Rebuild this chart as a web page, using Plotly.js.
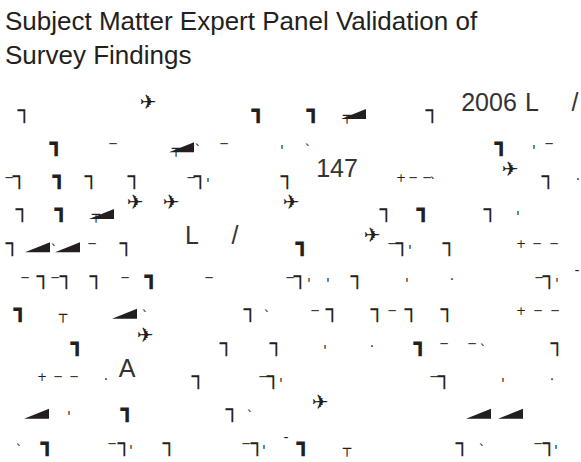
<!DOCTYPE html>
<html>
<head>
<meta charset="utf-8">
<script src="https://cdn.plot.ly/plotly-3.0.1.min.js"></script>
<style>
  html, body { margin: 0; padding: 0; background: #ffffff; }
  #chart { width: 581px; height: 462px; }
</style>
</head>
<body>
<div id="chart"></div>
<script>
// ---- Data (the body text is rendered with a broken font) ----
const titleText = 'Subject Matter Expert Panel Validation of<br>Survey Findings';

// Legible words in the body: text, row index, x position
const wordText = ['2006', 'L', '/', '147', 'L', '/', 'A'];
const wordRow  = [0, 0, 0, 2, 4, 4, 8];
const wordX    = [489, 532, 575, 337, 192, 235, 127];

// Broken-font glyph fragments: row index, x position, glyph
const glyphRow = [
  0,0,0,0,0,0,
  1,1,1,1,1,1,1,1,1,1,
  2,2,2,2,2,2,2,2,2,2,2,2,2,2,2,2,
  3,3,3,3,3,3,3,3,3,3,
  4,4,4,4,4,4,4,4,4,4,4,4,4,
  5,5,5,5,5,5,5,5,5,5,5,5,5,5,5,5,5,5,5,
  6,6,6,6,6,6,6,6,6,6,6,6,6,6,
  7,7,7,7,7,7,7,7,7,7,7,
  8,8,8,8,8,8,8,8,8,8,8,8,
  9,9,9,9,9,
  10,10,10,10,10,10,10,10,10,10,10,10,10,10,10,10,10
];
const glyphX = [
  24,148,258,313,347,432,
  56,113,176,198,224,282,308,501,534,549,
  9,19,59,91,134,191,200,208,287,401,413,427,433,510,548,578,
  22,61,96,135,171,291,386,423,490,518,
  12,54,92,126,302,372,392,402,410,449,521,537,554,
  25,43,55,66,96,125,151,209,290,300,309,328,357,407,452,539,549,557,577,
  20,63,145,250,267,315,332,377,392,411,447,521,538,555,
  77,145,226,276,325,372,420,444,472,483,557,
  42,58,74,106,198,263,273,281,434,444,503,552,
  69,127,232,250,320,
  19,47,112,124,131,169,246,257,264,286,303,347,462,482,538,549,556
];
const glyphChar = [
  '┐','✈','┓','┓','┬','┐',
  '┓','─','┬','`','─',"'",'`','┓',"'",'─',
  '─','┐','┓','┐','┐','─','┐',"'",'┐','+','─','─','`','✈','┐','.',
  '┐','┓','┬','✈','✈','✈','┐','┓','┐',"'",
  '┐','`','─','┐','┓','✈','─','┐',"'",'┐','+','─','─',
  '─','┐','─','┐','┐','─','┓','─','─','┐',"'","'",'┐',"'",'.','─','┐',"'",'-',
  '┓','┬','`','┐','`','─','┐','┐','─','┐','┐','+','─','─',
  '┓','✈','┐','┐',"'",'.','┓','─','─','`','┐',
  '+','─','─','.','┐','─','┐',"'",'─','┐',"'",'.',
  "'",'┓','┐','`','✈',
  '`','┓','─','┐',"'",'┐','─','┐',"'",'-','┓','┬','┐','`','─','┐',"'"
];

// Filled wedge fragments: row index, left x
const wedgeRow = [0, 1, 3, 4, 4, 6, 9, 9, 9];
const wedgeX   = [341, 169, 89, 25, 55, 112, 24, 466, 498];

// ---- Layout constants (styles) ----
const W = 581, H = 462;
const firstBaseline = 111, rowGap = 33.3;
const ink = '#231f20';
const wedgeW = 25, wedgeTop = -2, wedgeBottom = 8;

function baseline(r) { return firstBaseline + r * rowGap; }

const glyphStyle = {
  '┐': {size: 22, dy: 1,  family: 'DejaVu Sans Mono'},
  '┓': {size: 22, dy: 1,  family: 'DejaVu Sans Mono'},
  '─': {size: 12, dy: 1,  family: 'DejaVu Sans Mono'},
  '┬': {size: 14, dy: 5,  family: 'DejaVu Sans Mono'},
  '+': {size: 12, dy: 1,  family: 'DejaVu Sans'},
  '✈': {size: 20, dy: -7, family: 'DejaVu Sans'},
  "'": {size: 14, dy: 7,  family: 'DejaVu Sans'},
  '`': {size: 14, dy: 7,  family: 'DejaVu Sans'},
  '.': {size: 14, dy: -1, family: 'DejaVu Sans'},
  '-': {size: 14, dy: -6, family: 'DejaVu Sans'}
};

const gx = [], gy = [], gt = [], gs = [], gf = [];
for (let i = 0; i < glyphX.length; i++) {
  const st = glyphStyle[glyphChar[i]];
  gx.push(glyphX[i]);
  gy.push(baseline(glyphRow[i]) + st.dy);
  gt.push(glyphChar[i]);
  gs.push(st.size);
  gf.push(st.family);
}

const wx = [], wy = [];
for (let i = 0; i < wedgeX.length; i++) {
  const b = baseline(wedgeRow[i]);
  wx.push(wedgeX[i], wedgeX[i] + wedgeW, wedgeX[i] + wedgeW, null);
  wy.push(b + wedgeBottom, b + wedgeBottom, b + wedgeTop, null);
}

const wordSize = 25;
const traces = [
  {
    type: 'scatter', mode: 'lines', x: wx, y: wy,
    fill: 'toself', fillcolor: ink, line: {width: 0, color: ink},
    hoverinfo: 'skip', connectgaps: false
  },
  {
    type: 'scatter', mode: 'text', x: gx, y: gy, text: gt,
    textposition: 'middle center',
    textfont: {size: gs, family: gf, color: ink},
    hoverinfo: 'skip'
  },
  {
    type: 'scatter', mode: 'text',
    x: wordX,
    y: wordRow.map(r => baseline(r) - 6.5),
    text: wordText,
    textposition: 'middle center',
    textfont: {size: wordSize, family: 'Liberation Sans', color: '#333333'},
    hoverinfo: 'skip'
  }
];

const layout = {
  width: W, height: H,
  margin: {l: 0, r: 0, t: 0, b: 0},
  paper_bgcolor: '#ffffff', plot_bgcolor: '#ffffff',
  showlegend: false,
  title: {
    text: titleText,
    font: {family: 'Liberation Sans', size: 26, color: ink},
    x: 5 / W, xref: 'container', xanchor: 'left',
    y: 1 - 30 / H, yref: 'container', yanchor: 'top'
  },
  xaxis: {range: [0, W], visible: false, fixedrange: true},
  yaxis: {range: [H, 0], visible: false, fixedrange: true}
};

Plotly.newPlot('chart', traces, layout, {staticPlot: true, displayModeBar: false});
</script>
</body>
</html>
